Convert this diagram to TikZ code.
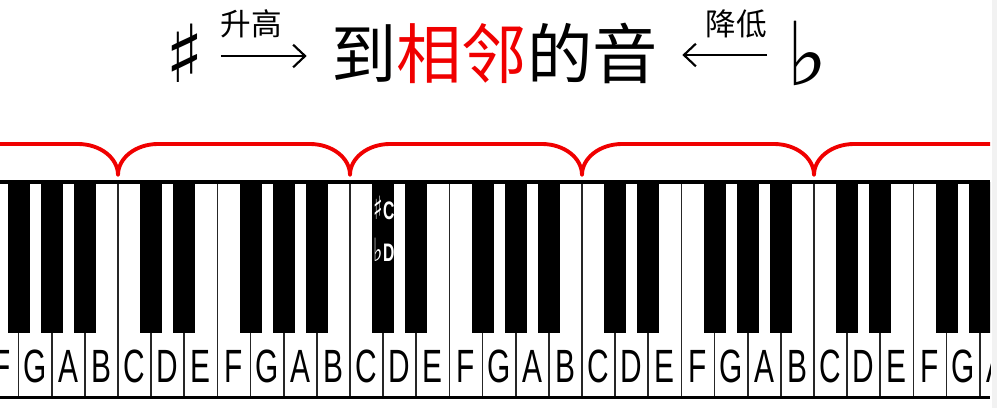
\documentclass[tikz,border=0pt]{standalone}
\usepackage{fontspec}
\usepackage{graphicx}
\setmainfont{Liberation Sans}
\newfontfamily\cjk{Noto Sans CJK SC}
\newfontfamily\musicsym{DejaVu Sans}
\usetikzlibrary{arrows.meta}
\definecolor{tonered}{RGB}{240,0,0}
\tikzset{every picture/.style={line width=0.75pt}}
\tikzset{
  keyletter/.style={inner sep=0pt, font=\fontsize{35}{35}\selectfont},
  keyline/.style={draw=black!85, line width=1.3pt},
  blackkey/.style={fill=black},
  bracecurve/.style={draw=tonered, line width=2.9pt, line join=round},
  tonearrow/.style={line width=1.6pt, -{Straight Barb[length=9pt, width=17pt, line width=1.6pt]}},
  keynote/.style={inner sep=0pt, text=white, font=\fontsize{19}{19}\selectfont\bfseries},
}
\newcommand{\narrowtxt}[1]{\scalebox{0.64}[1]{#1}}
\newcommand{\smallsym}[1]{{\musicsym\fontsize{24}{24}\selectfont #1}}

\begin{document}
\begin{tikzpicture}[x=0.75pt,y=0.75pt,yscale=-1,xscale=1]
\useasboundingbox (0,0) rectangle (997,408);

% Title nodes
\node (sharp) at (185,53) [inner sep=0pt] {\musicsym\fontsize{60}{60}\selectfont ♯};
\node (title) at (494.5,53) [inner sep=0pt] {\cjk\fontsize{49}{49}\selectfont 到\textcolor{tonered}{相邻}的音};
\node (flat) at (807,53) [inner sep=0pt] {\musicsym\fontsize{66}{66}\selectfont ♭};
\node (up) at (251,23.5) [inner sep=0pt] {\cjk\fontsize{23}{23}\selectfont 升高};
\node (down) at (736.5,23.5) [inner sep=0pt] {\cjk\fontsize{23}{23}\selectfont 降低};

%Straight Lines
\draw [tonearrow, shorten <=12pt, shorten >=18pt] (sharp.east |- 0,56) -- (title.west |- 0,56);
\draw [tonearrow, shorten <=14pt, shorten >=18pt] (flat.west |- 0,55) -- (title.east |- 0,55);

%Curve Lines (octave braces)
\draw [bracecurve] (0,144) -- (78,144) .. controls (100.1,144) and (118,157.9) .. (118,175) .. controls (118,157.9) and (135.9,144) .. (158,144)
  -- (310,144) .. controls (332.1,144) and (350,157.9) .. (350,175) .. controls (350,157.9) and (367.9,144) .. (390,144)
  -- (542,144) .. controls (564.1,144) and (582,157.9) .. (582,175) .. controls (582,157.9) and (599.9,144) .. (622,144)
  -- (774,144) .. controls (796.1,144) and (814,157.9) .. (814,175) .. controls (814,157.9) and (831.9,144) .. (854,144)
  -- (990,144);

\begin{scope}
\clip (0,0) rectangle (990,408);
% White keys and letters
\foreach \n [count=\i from 0] in {F,G,A,B,C,D,E,F,G,A,B,C,D,E,F,G,A,B,C,D,E,F,G,A,B,C,D,E,F,G,A} {
  \node (key\i) at ({-14.56+(\i+0.5)*33.14},366) [keyletter] {\narrowtxt{\n}};
  \draw [keyline] ({-14.56+\i*33.14},182) -- ({-14.56+\i*33.14},397);
}
% Black keys
\foreach \b in {1,2,3,5,6,8,9,10,12,13,15,16,17,19,20,22,23,24,26,27,29,30} {
  \fill [blackkey] ({-14.56+\b*33.14-11},182) rectangle ({-14.56+\b*33.14+11},333);
}
\end{scope}
\draw [line width=2.3pt] (0,182) -- (990,182);
\draw [line width=2pt] (0,397.5) -- (990,397.5);

% Text Node
\node (csharp) at (384,208) [keynote] {\scalebox{0.62}[1]{\smallsym{♯}C}};
% Text Node
\node (dflat) at (384,250) [keynote] {\scalebox{0.62}[1]{\smallsym{♭}D}};

\fill [black!5] (992,0) rectangle (997,408);
\end{tikzpicture}
\end{document}
